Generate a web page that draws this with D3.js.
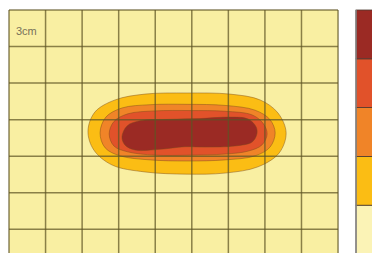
<!DOCTYPE html>
<html lang="en">
  <head>
    <meta charset="UTF-8" />
    <title>Contour</title>
    <script src="https://cdn.jsdelivr.net/npm/d3@7"></script>
    <style>
      body { margin: 0; background: #fff; }
      svg { display: block; }
    </style>
  </head>
  <body>
    <svg id="svg" width="372" height="253"></svg>
    <script>
      // grid extent in cells
      const gridCols = 9;
      const gridRows = 6.65;
      const scaleLabel = "3cm";

      // legend bands, bottom to top
      const bandColors = ["#fbf3b6", "#fbbd14", "#f08428", "#e1522a", "#9b2a24"];

      // contour outlines (cell units), outermost first
      const level1 = [
        [2.16, 3.31], [2.35, 2.79], [2.9, 2.46], [3.72, 2.3], [4.87, 2.27], [6.04, 2.3],
        [6.87, 2.46], [7.36, 2.82], [7.58, 3.36], [7.39, 3.91], [6.81, 4.29], [5.91, 4.46],
        [4.87, 4.49], [3.72, 4.43], [2.82, 4.24], [2.32, 3.83]
      ];
      const level2 = [
        [2.49, 3.36], [2.65, 2.93], [3.09, 2.68], [3.86, 2.59], [4.87, 2.58], [5.91, 2.61],
        [6.73, 2.74], [7.14, 3.0], [7.28, 3.36], [7.14, 3.75], [6.73, 3.99], [5.91, 4.1],
        [4.87, 4.13], [3.86, 4.1], [3.04, 3.99], [2.63, 3.77]
      ];
      const level3 = [
        [2.74, 3.39], [2.87, 3.05], [3.25, 2.84], [3.99, 2.76], [4.95, 2.75], [5.91, 2.77],
        [6.65, 2.87], [6.95, 3.1], [7.06, 3.39], [6.92, 3.69], [6.54, 3.86], [5.91, 3.94],
        [4.95, 3.97], [3.99, 3.97], [3.25, 3.88], [2.87, 3.72]
      ];
      const level4 = [
        [3.09, 3.47], [3.23, 3.17], [3.58, 3.03], [4.4, 2.99], [5.22, 2.97], [6.04, 2.93],
        [6.54, 2.98], [6.76, 3.2], [6.78, 3.39], [6.65, 3.61], [6.18, 3.72], [5.36, 3.75],
        [4.81, 3.74], [4.13, 3.81], [3.45, 3.83], [3.17, 3.69]
      ];
      const contours = [level1, level2, level3, level4];

      const svg = d3.select("#svg");
      const padLeft = 9, padTop = 10, cell = 36.56;

      const x = d3.scaleLinear().domain([0, gridCols]).range([padLeft, padLeft + gridCols * cell]);
      const y = d3.scaleLinear().domain([0, gridRows]).range([padTop, padTop + gridRows * cell]);

      // background
      svg.append("rect")
        .attr("x", x(0)).attr("y", y(0))
        .attr("width", x(gridCols) - x(0))
        .attr("height", y(gridRows) - y(0))
        .attr("fill", "#f9efa2");

      const path = d3.line()
        .x(d => x(d[0]))
        .y(d => y(d[1]))
        .curve(d3.curveCatmullRomClosed.alpha(0.5));

      svg.append("g")
        .selectAll("path")
        .data(contours)
        .join("path")
        .attr("d", path)
        .attr("fill", (d, i) => bandColors[i + 1])
        .attr("stroke", "#7a4a1a")
        .attr("stroke-opacity", 0.45)
        .attr("stroke-width", 1);

      // grid on top
      const grid = svg.append("g")
        .attr("stroke", "#5e5424")
        .attr("stroke-opacity", 0.72)
        .attr("stroke-width", 1.5);
      grid.selectAll(".v")
        .data(d3.range(0, gridCols + 1))
        .join("line")
        .attr("class", "v")
        .attr("x1", d => x(d)).attr("x2", d => x(d))
        .attr("y1", y(0)).attr("y2", y(gridRows));
      grid.selectAll(".h")
        .data(d3.range(0, Math.floor(gridRows) + 1))
        .join("line")
        .attr("class", "h")
        .attr("x1", x(0)).attr("x2", x(gridCols))
        .attr("y1", d => y(d)).attr("y2", d => y(d));

      svg.append("text")
        .attr("x", 16).attr("y", 35)
        .attr("font-family", "Liberation Sans, Arial, sans-serif")
        .attr("font-size", 11)
        .attr("fill", "#77725a")
        .text(scaleLabel);

      // colour legend
      const legendY = d3.scaleBand()
        .domain(d3.range(bandColors.length).reverse())
        .range([10, 254]);
      const legend = svg.append("g");
      legend.selectAll("rect")
        .data(d3.range(bandColors.length))
        .join("rect")
        .attr("x", 356)
        .attr("y", d => legendY(d))
        .attr("width", 20)
        .attr("height", legendY.bandwidth())
        .attr("fill", d => bandColors[d])
        .attr("stroke", "#4a3a30")
        .attr("stroke-width", 0.8);
      legend.append("line")
        .attr("x1", 356).attr("x2", 356)
        .attr("y1", 10).attr("y2", 253)
        .attr("stroke", "#888")
        .attr("stroke-width", 1.5);
    </script>
  </body>
</html>
